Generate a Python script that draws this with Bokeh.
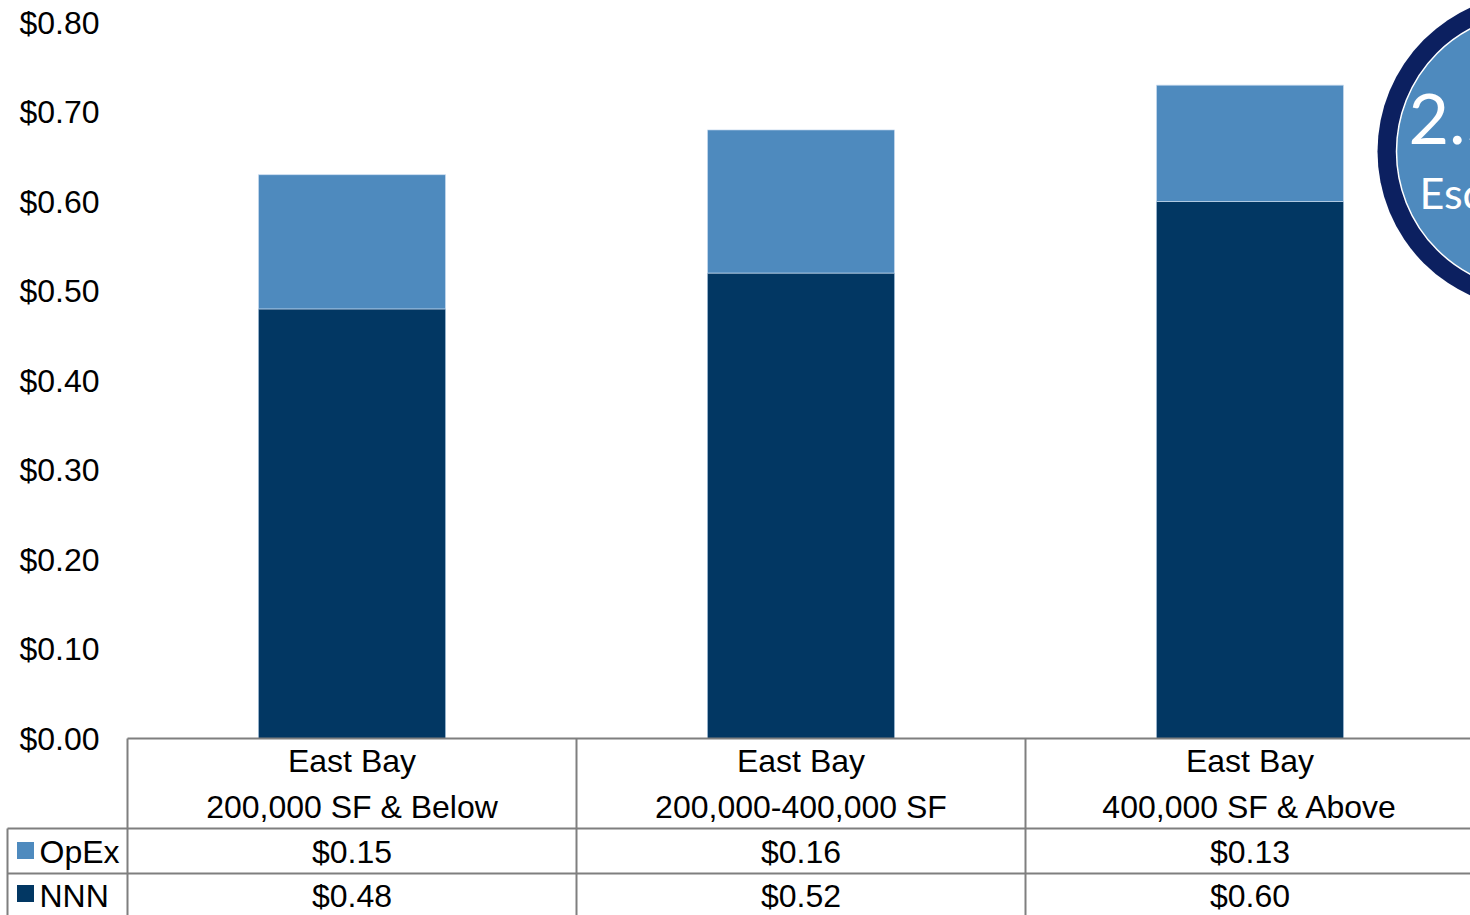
from bokeh.plotting import figure
from bokeh.models import Range1d
from bokeh.core.properties import value
from bokeh.embed import file_html
from bokeh.resources import INLINE

# ---------------- data ----------------
categories = ["East Bay\n200,000 SF & Below",
              "East Bay\n200,000-400,000 SF",
              "East Bay\n400,000 SF & Above"]
series_names = ["OpEx", "NNN"]
opex = [0.15, 0.16, 0.13]
nnn = [0.48, 0.52, 0.60]
y_ticks = [0.0, 0.1, 0.2, 0.3, 0.4, 0.5, 0.6, 0.7, 0.8]
y_tick_labels = ["$0.00", "$0.10", "$0.20", "$0.30", "$0.40",
                 "$0.50", "$0.60", "$0.70", "$0.80"]
callout_lines = ["2.5%", "Escalations"]

# ---------------- styles ----------------
OPEX_C = "#4E8ABE"
NNN_C = "#023763"
RING_C = "#0C2060"
GRID_C = "#7F7F7F"
FONT = value("Liberation Sans")
FS = "32px"

W, H = 1470, 915
# layout anchors (picture pixels)
PX_X0, PX_PER_CAT = 127, 449
PX_Y0, PX_PER_UNIT = 738, 895
FL, FT = 0, 0


def xd(px):
    return (px - PX_X0) / PX_PER_CAT


def yd(py):
    return (PX_Y0 - py) / PX_PER_UNIT


p = figure(width=W, height=H, output_backend="svg", toolbar_location=None,
           x_range=Range1d(xd(FL), xd(FL + W)),
           y_range=Range1d(yd(FT + H), yd(FT)),
           x_axis_location=None, y_axis_location=None,
           min_border=0, min_border_left=0, min_border_right=0,
           min_border_top=0, min_border_bottom=0)
p.outline_line_color = None
p.grid.visible = False
p.background_fill_color = "white"
p.border_fill_color = "white"

n = len(categories)
xc = [i + 0.5 for i in range(n)]
bar_w = 187 / PX_PER_CAT
tops = [a + b for a, b in zip(nnn, opex)]

# bars
p.vbar(x=xc, width=bar_w, bottom=0, top=nnn, fill_color=NNN_C,
       line_color="#9fbad6", line_width=1, line_alpha=0.7)
p.vbar(x=xc, width=bar_w, bottom=nnn, top=tops, fill_color=OPEX_C,
       line_color="#c9dcef", line_width=1, line_alpha=0.7)

# y tick labels
p.text(x=[xd(99)] * len(y_ticks), y=y_ticks, text=y_tick_labels,
       text_align="right", text_baseline="middle",
       text_font=FONT, text_font_size=FS, text_color="black")

# table lines
right = xd(1500)
bottom = yd(940)
hx0 = [0, xd(7), xd(7)]
hy = [0, yd(828), yd(873)]
p.segment(x0=hx0, y0=hy, x1=[right] * 3, y1=hy, line_color=GRID_C, line_width=2)
vx = [float(i) for i in range(n)] + [xd(7)]
vy0 = [0] * n + [yd(828)]
p.segment(x0=vx, y0=vy0, x1=vx, y1=[bottom] * len(vx), line_color=GRID_C, line_width=2)

# category labels (two lines)
line1 = [c.split("\n")[0] for c in categories]
line2 = [c.split("\n")[1] for c in categories]
p.text(x=xc, y=[yd(760)] * n, text=line1, text_align="center", text_baseline="middle",
       text_font=FONT, text_font_size=FS, text_color="black")
p.text(x=xc, y=[yd(806)] * n, text=line2, text_align="center", text_baseline="middle",
       text_font=FONT, text_font_size=FS, text_color="black")

# table values
row_y = [yd(851), yd(895)]
for vals, ry in zip([opex, nnn], row_y):
    p.text(x=xc, y=[ry] * n, text=["${:.2f}".format(v) for v in vals],
           text_align="center", text_baseline="middle",
           text_font=FONT, text_font_size=FS, text_color="black")

# legend keys in the table
p.scatter(x=[xd(25), xd(25)], y=[yd(850), yd(893)], marker="square", size=17,
          fill_color=[OPEX_C, NNN_C], line_color=None)
p.text(x=[xd(39), xd(39)], y=row_y, text=series_names, text_align="left",
       text_baseline="middle", text_font=FONT, text_font_size=FS, text_color="black")

# callout circle (clipped at the right edge)
cx, cy = xd(1535), yd(151)
p.circle(x=[cx], y=[cy], radius=158, radius_units="screen",
         fill_color=RING_C, line_color=None)
p.circle(x=[cx], y=[cy], radius=139, radius_units="screen",
         fill_color=OPEX_C, line_color="white", line_width=1.5)
p.text(x=[xd(1408)], y=[yd(116)], text=[callout_lines[0]], text_align="left",
       text_baseline="middle", text_font=value("Lato"), text_font_size="70px",
       text_color="white")
p.text(x=[xd(1419)], y=[yd(192)], text=[callout_lines[1]], text_align="left",
       text_baseline="middle", text_font=value("Lato"), text_font_size="43px",
       text_color="white")

open("out.html", "w").write(file_html(p, INLINE))
